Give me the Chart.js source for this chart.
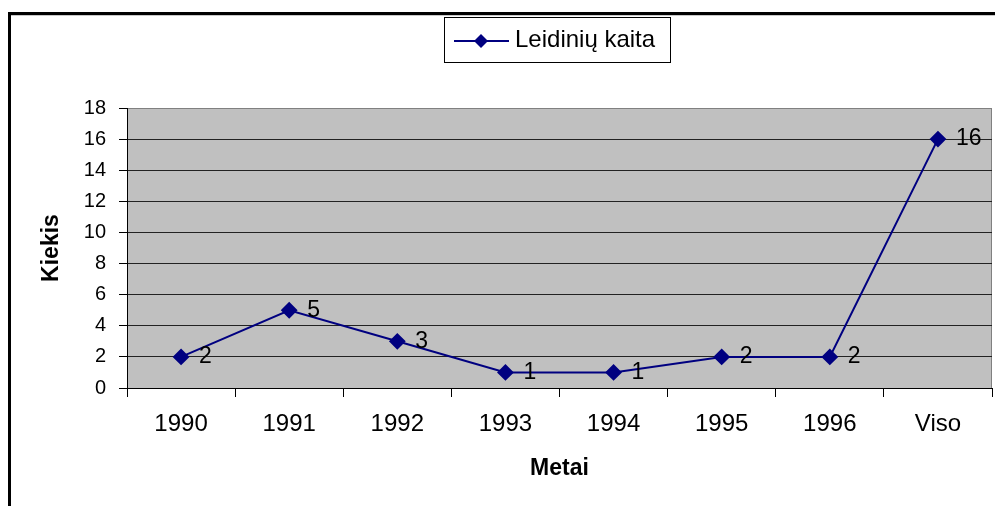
<!DOCTYPE html>
<html>
<head>
<meta charset="utf-8">
<script src="https://cdn.jsdelivr.net/npm/chart.js@4/dist/chart.umd.min.js"></script>
<style>
  body { margin: 0; background: #fff; }
  canvas { display: block; }
</style>
</head>
<body>
<canvas id="myChart" width="995" height="506"></canvas>
<script>
// data
const categories = ['1990', '1991', '1992', '1993', '1994', '1995', '1996', 'Viso'];
const kiekis = [2, 5, 3, 1, 1, 2, 2, 16];
const seriesName = 'Leidinių kaita';
const yMin = 0;
const yMax = 18;
const yStep = 2;

const FONT = '"Liberation Sans", Arial, sans-serif';
const NAVY = '#000080';

// grey plot area, frame around the whole picture, legend box and value labels
const excelLook = {
  id: 'excelLook',
  beforeDraw(chart) {
    const ctx = chart.ctx;
    const a = chart.chartArea;
    ctx.save();
    ctx.fillStyle = '#fff';
    ctx.fillRect(0, 0, chart.width, chart.height);
    // outer frame (top and left only visible)
    ctx.fillStyle = '#000';
    ctx.fillRect(9, 12, chart.width - 9, 3);
    ctx.fillRect(8, 12, 3, chart.height - 12);
    ctx.fillStyle = '#c8c8c8';
    ctx.fillRect(11, 15, chart.width - 11, 1);
    // plot background
    ctx.fillStyle = '#c0c0c0';
    ctx.fillRect(a.left, a.top, a.right - a.left, a.bottom - a.top);
    ctx.strokeStyle = '#808080';
    ctx.lineWidth = 1;
    ctx.beginPath();
    ctx.moveTo(a.left, a.top + 0.5);
    ctx.lineTo(a.right - 0.5, a.top + 0.5);
    ctx.lineTo(a.right - 0.5, a.bottom);
    ctx.stroke();
    ctx.restore();
  },
  afterDatasetsDraw(chart) {
    const ctx = chart.ctx;
    const meta = chart.getDatasetMeta(0);
    ctx.save();
    ctx.font = '23px ' + FONT;
    ctx.fillStyle = '#000';
    ctx.textAlign = 'left';
    ctx.textBaseline = 'middle';
    meta.data.forEach((pt, i) => {
      ctx.fillText(String(kiekis[i]), pt.x + 18, pt.y);
    });

    // legend
    const lx = 444, ly = 17, lw = 226, lh = 45;
    ctx.strokeStyle = '#000';
    ctx.lineWidth = 1;
    ctx.strokeRect(lx + 0.5, ly + 0.5, lw, lh);
    ctx.strokeStyle = NAVY;
    ctx.lineWidth = 2;
    ctx.beginPath();
    ctx.moveTo(454, 41);
    ctx.lineTo(509, 41);
    ctx.stroke();
    ctx.fillStyle = NAVY;
    ctx.beginPath();
    ctx.moveTo(481, 34);
    ctx.lineTo(488, 41);
    ctx.lineTo(481, 48);
    ctx.lineTo(474, 41);
    ctx.closePath();
    ctx.fill();
    ctx.fillStyle = '#000';
    ctx.font = '24px ' + FONT;
    ctx.fillText(seriesName, 515, 40);
    ctx.restore();
  }
};

const data = {
  labels: categories,
  datasets: [{
    label: seriesName,
    data: kiekis,
    borderColor: NAVY,
    backgroundColor: NAVY,
    borderWidth: 2,
    pointStyle: 'rectRot',
    pointRadius: 7,
    pointHoverRadius: 7,
    tension: 0
  }]
};

const config = {
  type: 'line',
  data: data,
  options: {
    responsive: false,
    animation: false,
    devicePixelRatio: 1,
    layout: {
      autoPadding: false,
      padding: { top: 108, right: 3, left: 0, bottom: 0 }
    },
    plugins: {
      legend: { display: false },
      tooltip: { enabled: false }
    },
    scales: {
      x: {
        offset: true,
        grid: {
          offset: true,
          drawOnChartArea: false,
          drawTicks: true,
          tickLength: 9,
          tickColor: '#000'
        },
        border: { display: true, color: '#000', width: 1 },
        ticks: {
          color: '#000',
          font: { family: FONT, size: 24 },
          padding: 13,
          maxRotation: 0
        },
        title: {
          display: true,
          text: 'Metai',
          color: '#000',
          font: { family: FONT, size: 23, weight: 'bold', lineHeight: 1.2 },
          padding: { top: 0, bottom: 24 }
        },
        afterFit: (scale) => {
          scale.height = 118;
          scale.paddingLeft = 0;
          scale.paddingRight = 0;
        }
      },
      y: {
        min: yMin,
        max: yMax,
        grid: {
          color: (c) => c.tick && c.tick.value === yMax ? '#808080' : '#222',
          tickLength: 8,
          tickColor: '#000'
        },
        border: { display: true, color: '#000', width: 1 },
        ticks: {
          stepSize: yStep,
          color: '#000',
          font: { family: FONT, size: 20 },
          padding: 13
        },
        title: {
          display: true,
          text: 'Kiekis',
          color: '#000',
          font: { family: FONT, size: 23, weight: 'bold', lineHeight: 1.2 },
          padding: { top: 38, bottom: 0 }
        },
        afterFit: (scale) => { scale.width = 127; }
      }
    }
  },
  plugins: [excelLook]
};

const myChart = new Chart(document.getElementById('myChart'), config);
</script>
</body>
</html>
